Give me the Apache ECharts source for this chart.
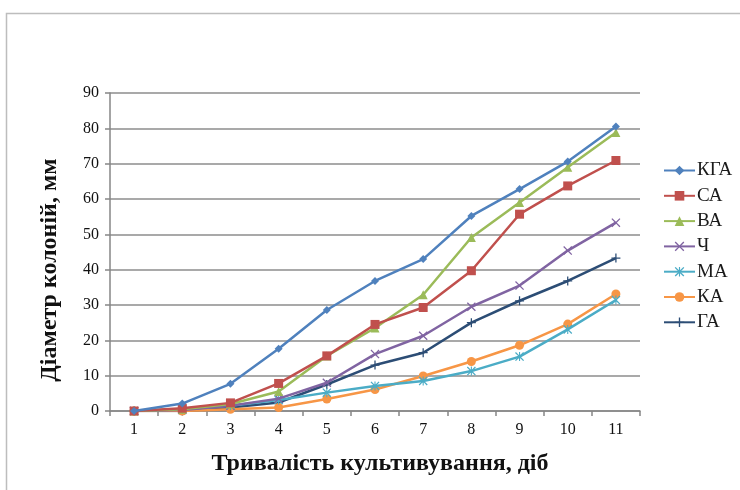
<!DOCTYPE html>
<html>
<head>
<meta charset="utf-8">
<script src="https://cdn.jsdelivr.net/npm/echarts@6/dist/echarts.min.js"></script>
<style>
  html, body { margin: 0; padding: 0; background: #fff; }
  #chart { width: 740px; height: 490px; }
</style>
</head>
<body>
<div id="chart"></div>
<script>
const days = ['1', '2', '3', '4', '5', '6', '7', '8', '9', '10', '11']
const seriesNames = ['КГА', 'СА', 'ВА', 'Ч', 'МА', 'КА', 'ГА']
const kga = [0, 2.1, 7.7, 17.6, 28.6, 36.8, 43, 55.2, 62.8, 70.6, 80.5]
const sa = [0, 0.8, 2.3, 7.8, 15.6, 24.5, 29.3, 39.7, 55.7, 63.7, 70.9]
const va = [0, 0.5, 2, 5.5, 15.6, 23.5, 32.9, 49.1, 59, 69, 78.8]
const ch = [0, 0.3, 1.5, 3.5, 8, 16.1, 21.3, 29.5, 35.5, 45.4, 53.3]
const ma = [0, 0.5, 1.5, 3.1, 5.2, 7.1, 8.5, 11.3, 15.4, 23.1, 31.4]
const ka = [0, 0, 0.5, 1, 3.4, 6.1, 9.9, 14, 18.6, 24.6, 33.1]
const ga = [0, 0, 1, 2.4, 7.5, 13, 16.5, 25, 31.2, 36.8, 43.3]
const yTicks = [0, 10, 20, 30, 40, 50, 60, 70, 80, 90]

const colors = ['#4F81BD', '#C0504D', '#9BBB59', '#8064A2', '#4BACC6', '#F79646', '#2C4D75']
const xMark = 'path://M0,1L1,0L5,4L9,0L10,1L6,5L10,9L9,10L5,6L1,10L0,9L4,5Z'
const plusMark = 'path://M4.3,0H5.7V4.3H10V5.7H5.7V10H4.3V5.7H0V4.3H4.3Z'
const starMark = 'path://M0,1L1,0L5,4L9,0L10,1L6,5L10,9L9,10L5,6L1,10L0,9L4,5ZM4.4,0H5.6V10H4.4Z'
const symbols = ['diamond', 'rect', 'triangle', xMark, starMark, 'circle', plusMark]
const sizes = [8, 9, 9, 9, 9, 9, 9]
const allData = [kga, sa, va, ch, ma, ka, ga]

const serif = '"Liberation Serif", "Times New Roman", serif'

const chart = echarts.init(document.getElementById('chart'))
chart.setOption({
  animation: false,
  color: colors,
  textStyle: { fontFamily: serif },
  graphic: [{
    type: 'rect',
    shape: { x: 6.5, y: 13.5, width: 760, height: 500 },
    style: { fill: 'none', stroke: '#bdbdbd', lineWidth: 1.5 },
    silent: true
  }],
  grid: { left: 110, right: 100, top: 93, bottom: 79 },
  legend: {
    orient: 'vertical',
    left: 658,
    top: 156,
    itemWidth: 31,
    itemHeight: 12,
    itemGap: 6.3,
    textStyle: { fontFamily: serif, fontSize: 19, color: '#1a1a1a', padding: [0, 0, 0, -3] },
    data: seriesNames
  },
  xAxis: {
    type: 'category',
    data: days,
    boundaryGap: true,
    name: 'Тривалість культивування, діб',
    nameLocation: 'middle',
    nameGap: 41,
    nameTextStyle: { fontFamily: serif, fontSize: 24, fontWeight: 'bold', color: '#111', padding: [0, 0, 0, 10] },
    axisLine: { lineStyle: { color: '#868686', width: 1.5 } },
    axisTick: { show: true, length: 5, lineStyle: { color: '#868686', width: 1.5 } },
    axisLabel: { fontFamily: serif, fontSize: 16, color: '#111', margin: 11 }
  },
  yAxis: {
    type: 'value',
    min: yTicks[0],
    max: yTicks[yTicks.length - 1],
    interval: 10,
    name: 'Діаметр колоній, мм',
    nameLocation: 'middle',
    nameGap: 48,
    nameTextStyle: { fontFamily: serif, fontSize: 24, fontWeight: 'bold', color: '#111', padding: [0, 36, 0, 0] },
    axisLine: { show: true, lineStyle: { color: '#868686', width: 1.5 } },
    axisTick: { show: true, length: 5, lineStyle: { color: '#868686', width: 1.5 } },
    axisLabel: { fontFamily: serif, fontSize: 16, color: '#111', margin: 11 },
    splitLine: { lineStyle: { color: '#8c8c8c', width: 1.5 } }
  },
  series: seriesNames.map((name, i) => ({
    name: name,
    type: 'line',
    data: allData[i],
    symbol: symbols[i],
    symbolSize: sizes[i],
    showAllSymbol: true,
    lineStyle: { width: 2.5, color: colors[i] },
    itemStyle: { color: colors[i] },
    z: 10 - i
  }))
})
</script>
</body>
</html>
